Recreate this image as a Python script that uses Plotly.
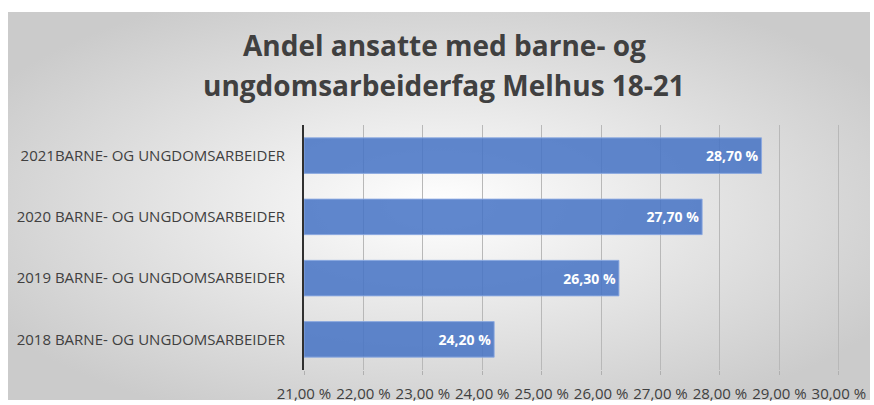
import base64
import plotly.graph_objects as go

categories = ["2018 BARNE- OG UNGDOMSARBEIDER", "2019 BARNE- OG UNGDOMSARBEIDER",
              "2020 BARNE- OG UNGDOMSARBEIDER", "2021BARNE- OG UNGDOMSARBEIDER"]
values = [24.2, 26.3, 27.7, 28.7]
labels = ["24,20 %", "26,30 %", "27,70 %", "28,70 %"]
tick_vals = [21, 22, 23, 24, 25, 26, 27, 28, 29, 30]
tick_text = ["21,00 %", "22,00 %", "23,00 %", "24,00 %", "25,00 %",
             "26,00 %", "27,00 %", "28,00 %", "29,00 %", "30,00 %"]
title_lines = ["Andel ansatte med barne- og", "ungdomsarbeiderfag Melhus 18-21"]
axis_min = 21

svg = ('<svg xmlns="http://www.w3.org/2000/svg" width="862" height="388">'
       '<defs><radialGradient id="g" cx="50%" cy="50%" r="60%">'
       '<stop offset="0%" stop-color="#ffffff"/><stop offset="100%" stop-color="#cbcbcb"/>'
       '</radialGradient></defs><rect width="862" height="388" fill="url(#g)"/></svg>')
src = "data:image/svg+xml;base64," + base64.b64encode(svg.encode()).decode()

fig = go.Figure(go.Bar(
    x=[v - axis_min for v in values], y=categories, orientation="h", base=axis_min,
    marker=dict(color="rgba(68,114,196,0.85)", line=dict(color="rgba(140,170,225,0.9)", width=1)),
    text=labels, textposition="inside", insidetextanchor="end",
    textfont=dict(color="white", size=14, family="Open Sans", weight="bold"),
))

title_font = dict(family="Open Sans", size=28, color="#404040", weight="bold")
fig.update_layout(
    width=874, height=405,
    margin=dict(l=304, r=34, t=125, b=35, autoexpand=False),
    paper_bgcolor="white", plot_bgcolor="rgba(0,0,0,0)",
    bargap=0.42,
    showlegend=False,
    annotations=[
        dict(text=title_lines[0], xref="paper", yref="paper", x=(444 - 304) / 536,
             y=(370 - 45) / 245, xanchor="center", yanchor="middle",
             showarrow=False, font=title_font),
        dict(text=title_lines[1], xref="paper", yref="paper", x=(444 - 304) / 536,
             y=(370 - 85) / 245, xanchor="center", yanchor="middle",
             showarrow=False, font=title_font),
    ],
    images=[dict(source=src, xref="paper", yref="paper", x=-296 / 536, y=358 / 245,
                 sizex=862 / 536, sizey=388 / 245, xanchor="left", yanchor="top",
                 sizing="stretch", layer="below")],
    xaxis=dict(range=[21, 30.02], tickvals=tick_vals, ticktext=tick_text,
               showgrid=True, gridcolor="#b8b8b8", gridwidth=1,
               ticks="outside", ticklen=4, tickcolor="#b0b0b0",
               tickfont=dict(family="Open Sans", size=15, color="#404040"),
               zeroline=False, showline=False, fixedrange=True, automargin=False,
               ticklabelstandoff=6),
    yaxis=dict(tickfont=dict(family="Open Sans", size=15, color="#404040"),
               showline=True, linecolor="#303030", linewidth=2,
               ticks="", ticklabelstandoff=14, showgrid=False, automargin=False),
)
fig.write_html("out.html", config={"displayModeBar": False})

with open("out.html", encoding="utf-8") as f:
    html = f.read()
html = html.replace("<head>", "<head><style>html,body{margin:0;padding:0;}</style>", 1)
with open("out.html", "w", encoding="utf-8") as f:
    f.write(html)
